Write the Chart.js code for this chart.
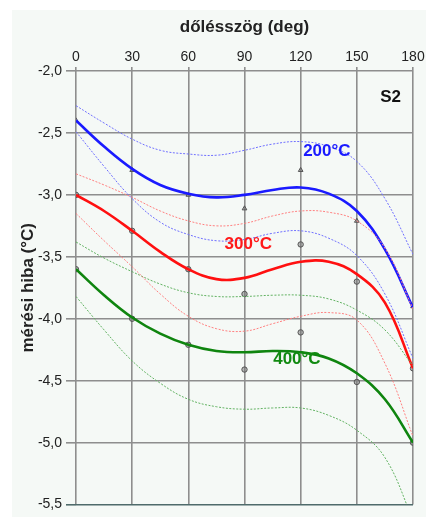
<!DOCTYPE html>
<html>
<head>
<meta charset="utf-8">
<script src="https://cdn.jsdelivr.net/npm/chart.js@4.4.1/dist/chart.umd.min.js"></script>
<style>
  html, body { margin: 0; padding: 0; background: #ffffff; }
  #wrap { width: 426px; height: 517px; }
</style>
</head>
<body>
<div id="wrap"><canvas id="c" width="426" height="517"></canvas></div>
<script>
// smoothed curves, read every 15 deg
const angles = [0, 15, 30, 45, 60, 75, 90, 105, 120, 135, 150, 165, 180];

const fit200 = [-2.40, -2.61, -2.79, -2.92, -2.99, -3.02, -3.00, -2.96, -2.94, -2.99, -3.13, -3.44, -3.91];
const up200  = [-2.28, -2.42, -2.55, -2.64, -2.67, -2.68, -2.64, -2.59, -2.57, -2.61, -2.73, -3.03, -3.48];
const lo200  = [-2.49, -2.77, -3.03, -3.22, -3.32, -3.37, -3.36, -3.31, -3.29, -3.35, -3.49, -3.80, -4.32];

const fit300 = [-3.00, -3.13, -3.29, -3.46, -3.60, -3.68, -3.67, -3.60, -3.54, -3.54, -3.64, -3.87, -4.40];
const up300  = [-2.83, -2.92, -3.02, -3.13, -3.21, -3.25, -3.23, -3.17, -3.13, -3.14, -3.21, -3.43, -3.92];
const lo300  = [-3.15, -3.37, -3.58, -3.80, -3.98, -4.08, -4.10, -4.04, -3.98, -3.95, -4.01, -4.36, -4.95];

const fit400 = [-3.60, -3.81, -3.99, -4.12, -4.21, -4.26, -4.27, -4.26, -4.27, -4.32, -4.44, -4.65, -5.00];
const up400  = [-3.38, -3.51, -3.62, -3.72, -3.79, -3.82, -3.82, -3.81, -3.81, -3.84, -3.93, -4.09, -4.38];
const lo400  = [-3.82, -4.09, -4.34, -4.52, -4.65, -4.71, -4.73, -4.72, -4.72, -4.78, -4.90, -5.12, -5.62];

// measured points
const measAngles = [0, 30, 60, 90, 120, 150, 180];
const meas200 = [-2.40, -2.80, -3.00, -3.11, -2.80, -3.21, -3.90];
const meas300 = [-3.00, -3.29, -3.60, -3.80, -3.40, -3.70, -4.40];
const meas400 = [-3.60, -4.00, -4.21, -4.41, -4.11, -4.51, -5.00];

const xTicks = [0, 30, 60, 90, 120, 150, 180];
const yTicks = [-2.0, -2.5, -3.0, -3.5, -4.0, -4.5, -5.0, -5.5];

// curve labels: text, angle, value
const labelText = ['200°C', '300°C', '400°C', 'S2'];
const labelX = [134, 92, 118, 168];
const labelY = [-2.65, -3.40, -4.33, -2.21];
const labelColor = ['#1a1aff', '#ff1a1a', '#118a11', '#111111'];

function pts(xs, ys) {
  return xs.map((x, i) => ({ x: x, y: ys[i] }));
}

function fitLine(ys, color) {
  return {
    data: pts(angles, ys), showLine: true, borderColor: color, borderWidth: 2.6,
    pointRadius: 0, tension: 0.4, fill: false
  };
}
function bandLine(ys, color) {
  return {
    data: pts(angles, ys), showLine: true, borderColor: color, borderWidth: 1,
    borderDash: [2, 1.5], pointRadius: 0, tension: 0.4, fill: false
  };
}
function measPts(ys, style) {
  return {
    data: pts(measAngles, ys), showLine: false, pointStyle: style,
    pointRadius: 2.7, pointBorderWidth: 1, pointBorderColor: '#555555',
    pointBackgroundColor: 'rgba(120,120,120,0.5)'
  };
}

const bgPanel = {
  id: 'bgPanel',
  beforeDraw(chart) {
    const ctx = chart.ctx;
    ctx.save();
    ctx.fillStyle = '#f5f9f6';
    ctx.fillRect(12, 10, chart.width - 12, chart.height - 10);
    ctx.restore();
  }
};

const curveLabels = {
  id: 'curveLabels',
  afterDatasetsDraw(chart) {
    const ctx = chart.ctx;
    const xs = chart.scales.x, ys = chart.scales.y;
    ctx.save();
    ctx.textAlign = 'center';
    ctx.textBaseline = 'middle';
    labelText.forEach((t, i) => {
      ctx.font = 'bold 17px "Liberation Sans", Arial, sans-serif';
      ctx.fillStyle = labelColor[i];
      ctx.fillText(t, xs.getPixelForValue(labelX[i]), ys.getPixelForValue(labelY[i]));
    });
    ctx.restore();
  }
};

Chart.defaults.font.family = '"Liberation Sans", Arial, sans-serif';
Chart.defaults.color = '#333333';

new Chart(document.getElementById('c'), {
  type: 'scatter',
  data: {
    datasets: [
      bandLine(up200, '#7070ff'), bandLine(lo200, '#7070ff'),
      bandLine(up300, '#ff8080'), bandLine(lo300, '#ff8080'),
      bandLine(up400, '#62b262'), bandLine(lo400, '#62b262'),
      fitLine(fit200, '#1a1aff'), fitLine(fit300, '#ff1010'), fitLine(fit400, '#0f850f'),
      measPts(meas200, 'triangle'), measPts(meas300, 'circle'), measPts(meas400, 'circle')
    ]
  },
  options: {
    responsive: false,
    animation: false,
    layout: { padding: { left: 12, top: 10, right: 13, bottom: 4 } },
    plugins: { legend: { display: false }, tooltip: { enabled: false } },
    scales: {
      x: {
        type: 'linear', position: 'top', min: 0, max: 180,
        afterBuildTicks: (s) => { s.ticks = xTicks.map(v => ({ value: v })); },
        afterFit: (s) => { s.height = 61; },
        ticks: { font: { size: 14 }, padding: 1, color: '#222' },
        grid: { color: '#8e8e8e', lineWidth: 1.6, tickLength: 4 },
        border: { display: false },
        title: {
          display: true, text: 'dőlésszög (deg)',
          font: { size: 17, weight: 'bold' }, color: '#222', padding: { top: 7, bottom: 0 }
        }
      },
      y: {
        type: 'linear', min: -5.5, max: -2.0,
        afterBuildTicks: (s) => { s.ticks = yTicks.map(v => ({ value: v })); },
        afterFit: (s) => { s.width = 64; },
        ticks: {
          font: { size: 14 }, padding: 4, color: '#222',
          callback: (v) => v.toFixed(1).replace('.', ',')
        },
        grid: {
          color: (c) => (c.tick && c.tick.value === -5.5 ? '#4f6b6b' : '#8e8e8e'),
          lineWidth: 1.6, tickLength: 10
        },
        border: { display: false },
        title: {
          display: true, text: 'mérési hiba (°C)',
          font: { size: 17, weight: 'bold' }, color: '#222', padding: { top: 6, bottom: 0 }
        }
      }
    }
  },
  plugins: [bgPanel, curveLabels]
});
</script>
</body>
</html>
